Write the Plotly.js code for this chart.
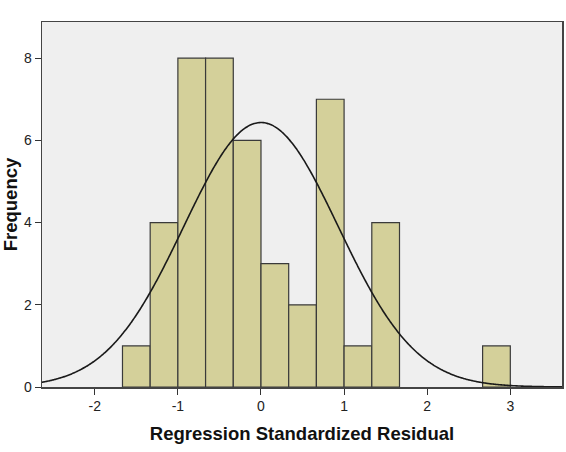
<!DOCTYPE html>
<html>
<head>
<meta charset="utf-8">
<script src="https://cdn.plot.ly/plotly-3.0.1.min.js"></script>
<style>html,body{margin:0;padding:0;background:#fff;}#chart{width:566px;height:452px;}</style>
</head>
<body>
<div id="chart"></div>
<script>
// Histogram bins (left edges) and counts
const binWidth = 1/3;
const binLeftEdges = [-5/3, -4/3, -1, -2/3, -1/3, 0, 1/3, 2/3, 1, 4/3, 8/3];
const binCounts = [1, 4, 8, 8, 6, 3, 2, 7, 1, 4, 1];
// Normal curve parameters
const residMean = 0.0;
const residStdDev = 0.93;
const sampleN = 45;
const xTicks = [-2, -1, 0, 1, 2, 3];
const yTicks = [0, 2, 4, 6, 8];

const barCenters = binLeftEdges.map(e => e + binWidth / 2);

const curveX = [];
const curveY = [];
for (let i = 0; i <= 400; i++) {
  const x = -2.65 + i * (3.65 + 2.65) / 400;
  curveX.push(x);
  const z = (x - residMean) / residStdDev;
  curveY.push(sampleN * binWidth * Math.exp(-0.5 * z * z) / (residStdDev * Math.sqrt(2 * Math.PI)));
}

const traces = [
  {
    type: 'bar',
    x: barCenters,
    y: binCounts,
    width: binCounts.map(() => binWidth),
    marker: { color: '#d4d09a', line: { color: '#3a3a3a', width: 1.2 } },
    hoverinfo: 'skip'
  },
  {
    type: 'scatter',
    mode: 'lines',
    x: curveX,
    y: curveY,
    line: { color: '#1a1a1a', width: 1.6, shape: 'spline' },
    hoverinfo: 'skip'
  }
];

const titleFont = { size: 18.5, color: '#111', family: 'Liberation Sans, Arial, sans-serif', weight: 'bold' };

const layout = {
  width: 566,
  height: 452,
  margin: { l: 42, r: 4, t: 22, b: 65 },
  paper_bgcolor: '#ffffff',
  plot_bgcolor: '#efefef',
  showlegend: false,
  bargap: 0,
  font: { family: 'Liberation Sans, Arial, sans-serif', color: '#222222', size: 14 },
  xaxis: {
    range: [-2.635, 3.622],
    tickvals: xTicks,
    ticktext: xTicks.map(String),
    ticks: 'outside',
    ticklen: 6,
    tickcolor: '#333',
    tickwidth: 1,
    showgrid: false,
    zeroline: false,
    showline: true,
    mirror: true,
    linecolor: '#444',
    linewidth: 1.5,
    tickfont: { size: 14, color: '#222' },
    title: { text: 'Regression Standardized Residual', font: titleFont, standoff: 14 }
  },
  yaxis: {
    range: [0, 8.88],
    tickvals: yTicks,
    ticks: 'outside',
    ticklen: 6,
    tickcolor: '#333',
    showgrid: false,
    zeroline: false,
    showline: true,
    mirror: true,
    linecolor: '#444',
    linewidth: 1.5,
    tickfont: { size: 14, color: '#222' },
    title: { text: 'Frequency', font: titleFont, standoff: 4 }
  }
};

Plotly.newPlot('chart', traces, layout, { displayModeBar: false, staticPlot: true });
</script>
</body>
</html>
